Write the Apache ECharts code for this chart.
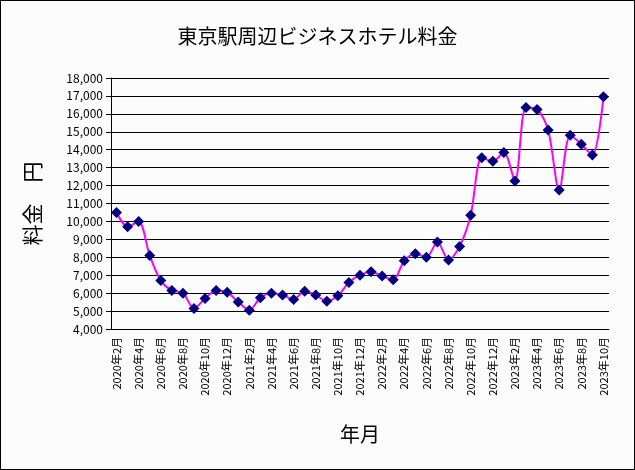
<!DOCTYPE html>
<html>
<head>
<meta charset="utf-8">
<script src="https://cdn.jsdelivr.net/npm/echarts@6/dist/echarts.min.js"></script>
<style>
  html, body { margin: 0; padding: 0; background: #fff; }
  #chart { width: 633px; height: 468px; border: 1px solid #000; background: #fcfcfc; }
</style>
</head>
<body>
<div id="chart"></div>
<script>
  const months = [];
  for (let y = 2020; y <= 2023; y++) {
    for (let m = 1; m <= 12; m++) {
      if ((y === 2020 && m < 2) || (y === 2023 && m > 10)) continue;
      months.push(y + "年" + m + "月");
    }
  }
  const prices = [
    10500, 9700, 10000, 8100, 6700, 6150, 6000, 5150, 5700, 6150, 6050,
    5500, 5050, 5750, 6000, 5900, 5650, 6100, 5900, 5550, 5850, 6600, 7000,
    7200, 6950, 6750, 7800, 8200, 8000, 8850, 7850, 8600, 10350, 13550, 13350,
    13850, 12250, 16350, 16250, 15100, 11750, 14800, 14300, 13700, 16950,
  ];
  const font = '"Noto Sans CJK JP", sans-serif';

  const chart = echarts.init(document.getElementById("chart"));
  chart.setOption({
    animation: false,
    textStyle: { fontFamily: font },
    title: {
      text: "東京駅周辺ビジネスホテル料金",
      left: "center",
      top: 20,
      textStyle: { fontFamily: font, fontSize: 20, fontWeight: "normal", color: "#000" },
    },
    grid: { left: 110, right: 25, top: 77, bottom: 140 },
    xAxis: {
      type: "category",
      data: months,
      boundaryGap: true,
      name: "年月",
      nameLocation: "middle",
      nameGap: 95,
      nameTextStyle: { fontSize: 20, color: "#000", fontFamily: font },
      axisLine: { lineStyle: { color: "#000" } },
      axisTick: { interval: 1, lineStyle: { color: "#000" } },
      axisLabel: { interval: 1, rotate: 90, fontSize: 11, color: "#000", fontFamily: font },
    },
    yAxis: {
      type: "value",
      min: 4000,
      max: 18000,
      interval: 1000,
      name: "料金　円",
      nameLocation: "middle",
      nameRotate: 90,
      nameGap: 68,
      nameTextStyle: { fontSize: 21, color: "#000", fontFamily: font },
      axisLine: { show: true, lineStyle: { color: "#000" } },
      axisTick: { show: true, lineStyle: { color: "#000" } },
      axisLabel: {
        fontSize: 12, color: "#000", fontFamily: font,
        formatter: (v) => v.toLocaleString("en-US"),
      },
      splitLine: { lineStyle: { color: "#000" } },
    },
    series: [
      {
        type: "line",
        data: prices,
        smooth: 0.3,
        showAllSymbol: true,
        lineStyle: { color: "#ff00ff", width: 2 },
        symbol: "diamond",
        symbolSize: 11,
        itemStyle: { color: "#000080" },
      },
    ],
  });
</script>
</body>
</html>
